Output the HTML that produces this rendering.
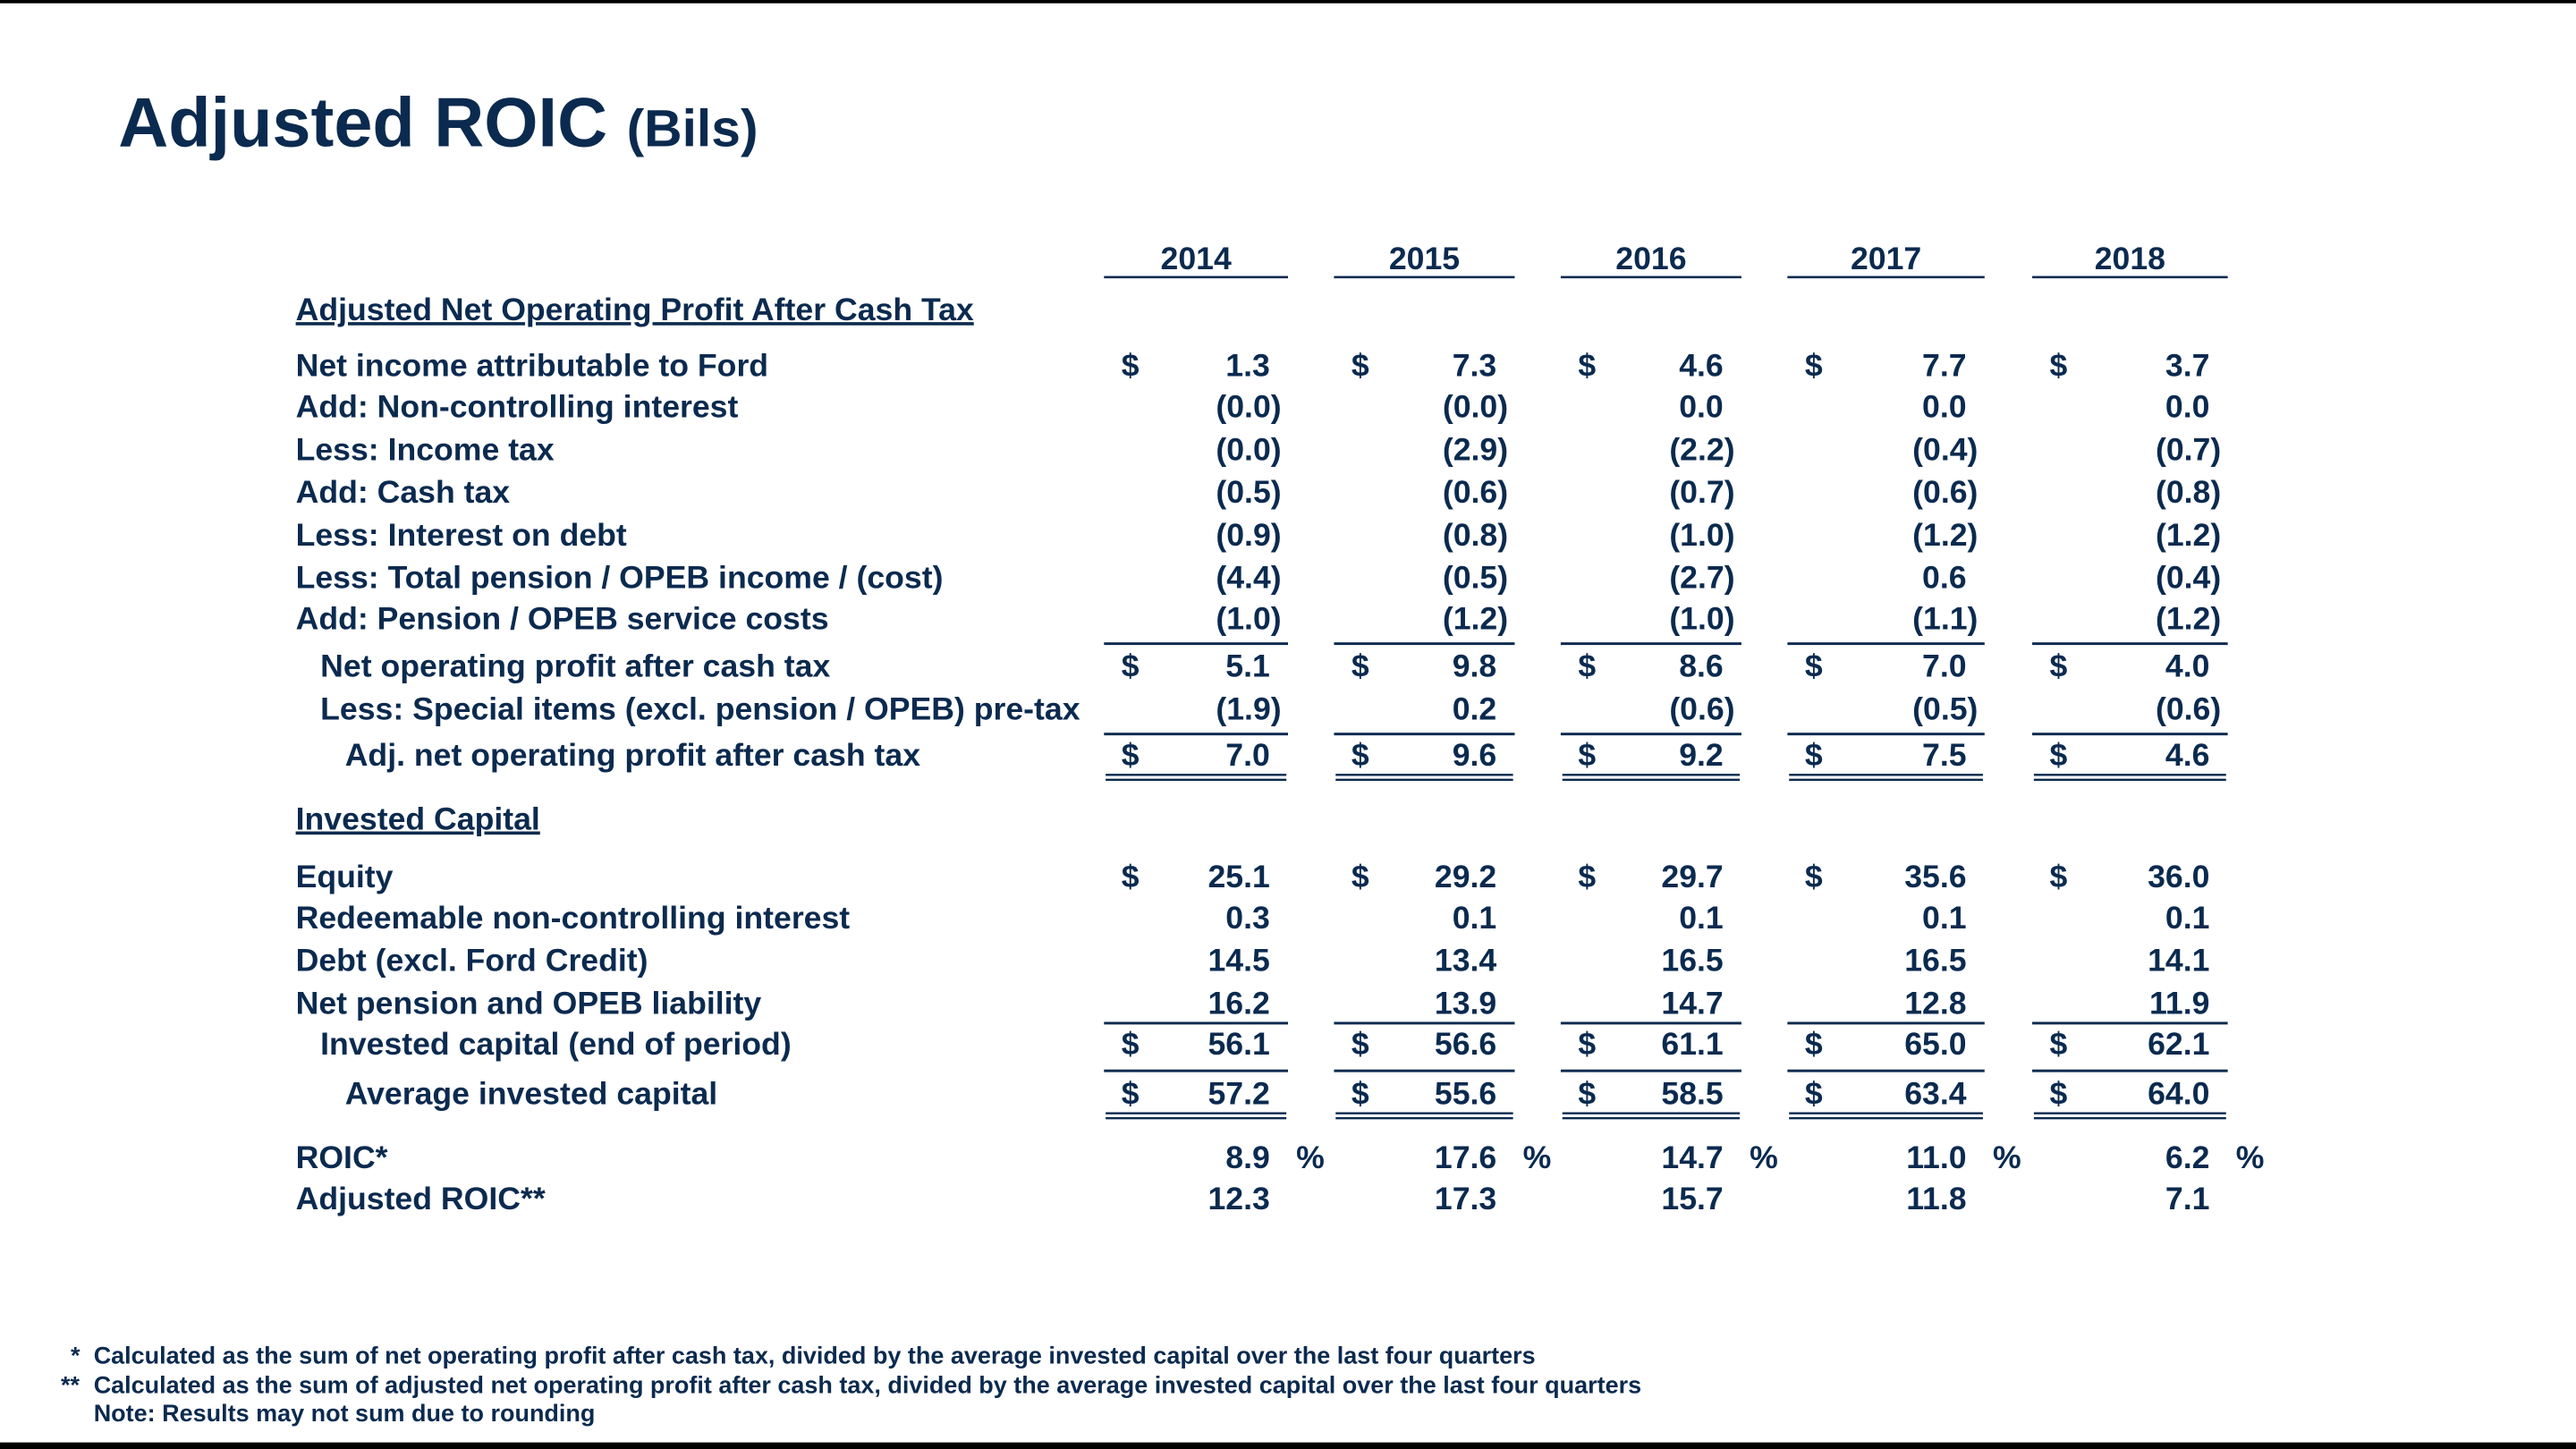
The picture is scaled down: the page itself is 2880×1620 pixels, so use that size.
<!DOCTYPE html>
<html><head><meta charset="utf-8"><style>
html,body{margin:0;padding:0;background:#fff;width:2880px;height:1620px;overflow:hidden}
svg{display:block}
text{font-family:"Liberation Sans",Arial,sans-serif;font-weight:bold;fill:#0b2a4f}
</style></head><body>
<svg id="chart" width="2880" height="1620" viewBox="0 0 1568 882" xmlns="http://www.w3.org/2000/svg">
<rect x="0" y="0" width="1568" height="2" fill="#000"/>
<rect x="0" y="878" width="1568" height="4" fill="#000"/>
<text x="72" y="89" font-size="42.2">Adjusted ROIC <tspan font-size="32">(Bils)</tspan></text>
<text x="180" y="195" font-size="19.4" text-decoration="underline">Adjusted Net Operating Profit After Cash Tax</text>
<text x="180" y="505" font-size="19.4" text-decoration="underline">Invested Capital</text>
<text x="57" y="830" font-size="14.7">Calculated as the sum of net operating profit after cash tax, divided by the average invested capital over the last four quarters</text>
<text x="43" y="830" font-size="14.7">*</text>
<text x="57" y="848" font-size="14.7">Calculated as the sum of adjusted net operating profit after cash tax, divided by the average invested capital over the last four quarters</text>
<text x="37" y="848" font-size="14.7">**</text>
<text x="57" y="865" font-size="14.7">Note: Results may not sum due to rounding</text>
<g id="body"></g>
</svg>
<script>
const years = ["2014","2015","2016","2017","2018"];
const netIncome = [1.3, 7.3, 4.6, 7.7, 3.7];
const nonControlling = [-0.04, -0.04, 0.0, 0.0, 0.0];
const incomeTax = [-0.04, -2.9, -2.2, -0.4, -0.7];
const cashTax = [-0.5, -0.6, -0.7, -0.6, -0.8];
const interestDebt = [-0.9, -0.8, -1.0, -1.2, -1.2];
const pensionIncome = [-4.4, -0.5, -2.7, 0.6, -0.4];
const pensionService = [-1.0, -1.2, -1.0, -1.1, -1.2];
const nopat = [5.1, 9.8, 8.6, 7.0, 4.0];
const specialItems = [-1.9, 0.2, -0.6, -0.5, -0.6];
const adjNopat = [7.0, 9.6, 9.2, 7.5, 4.6];
const equity = [25.1, 29.2, 29.7, 35.6, 36.0];
const redeemable = [0.3, 0.1, 0.1, 0.1, 0.1];
const debt = [14.5, 13.4, 16.5, 16.5, 14.1];
const pensionLiab = [16.2, 13.9, 14.7, 12.8, 11.9];
const investedEnd = [56.1, 56.6, 61.1, 65.0, 62.1];
const avgInvested = [57.2, 55.6, 58.5, 63.4, 64.0];
const roic = [8.9, 17.6, 14.7, 11.0, 6.2];
const adjRoic = [12.3, 17.3, 15.7, 11.8, 7.1];

const NS = "http://www.w3.org/2000/svg";
const g = document.getElementById("body");
const colLeft = i => [672,812,950,1088,1237][i];
const colRight = i => [784,922,1060,1208,1356][i];
const numRight = i => colRight(i) - 11;
const dollarX = i => colLeft(i) + 16;
const FS = 19.4;

function txt(x, y, s, anchor, size) {
  const t = document.createElementNS(NS, "text");
  t.setAttribute("x", x); t.setAttribute("y", y);
  t.setAttribute("font-size", size || FS);
  if (anchor) t.setAttribute("text-anchor", anchor);
  t.textContent = s;
  g.appendChild(t);
  return t;
}
function line(x1, x2, y, w) {
  const r = document.createElementNS(NS, "rect");
  r.setAttribute("x", x1); r.setAttribute("y", y);
  r.setAttribute("width", x2 - x1); r.setAttribute("height", w || 1.6);
  r.setAttribute("fill", "#0b2a4f");
  g.appendChild(r);
  return r;
}
function fmt(v) {
  const s = Math.abs(v).toFixed(1);
  return v < 0 ? "(" + s + ")" : s;
}

years.forEach((y, i) => {
  const t = txt((colLeft(i) + colRight(i)) / 2, 164, y, "middle");
  
  
  const l = line(colLeft(i), colRight(i), 168, 1.4);
  
  
});

const rows = [
  {label:"Net income attributable to Ford", x:180, y:229, v:netIncome, d:true},
  {label:"Add: Non-controlling interest", x:180, y:254, v:nonControlling},
  {label:"Less: Income tax", x:180, y:280, v:incomeTax},
  {label:"Add: Cash tax", x:180, y:306, v:cashTax},
  {label:"Less: Interest on debt", x:180, y:332, v:interestDebt},
  {label:"Less: Total pension / OPEB income / (cost)", x:180, y:358, v:pensionIncome},
  {label:"Add: Pension / OPEB service costs", x:180, y:383, v:pensionService},
  {label:"Net operating profit after cash tax", x:195, y:412, v:nopat, d:true, top:391},
  {label:"Less: Special items (excl. pension / OPEB) pre-tax", x:195, y:438, v:specialItems},
  {label:"Adj. net operating profit after cash tax", x:210, y:466, v:adjNopat, d:true, top:446, dbl:471},
  {label:"Equity", x:180, y:540, v:equity, d:true},
  {label:"Redeemable non-controlling interest", x:180, y:565, v:redeemable},
  {label:"Debt (excl. Ford Credit)", x:180, y:591, v:debt},
  {label:"Net pension and OPEB liability", x:180, y:617, v:pensionLiab},
  {label:"Invested capital (end of period)", x:195, y:642, v:investedEnd, d:true, top:622},
  {label:"Average invested capital", x:210, y:672, v:avgInvested, d:true, top:651, dbl:677},
  {label:"ROIC*", x:180, y:711, v:roic, pct:true},
  {label:"Adjusted ROIC**", x:180, y:736, v:adjRoic}
];

rows.forEach((r, ri) => {
  const key = r.label.toLowerCase().replace(/[^a-z0-9]+/g, '-').replace(/^-|-$/g, '');
  const lab = txt(r.x, r.y, r.label);
  
  
  r.v.forEach((v, i) => {
    const s = fmt(v);
    const xr = v < 0 ? numRight(i) + 7 : numRight(i);
    const c = txt(xr, r.y, s, "end");
    
    
    if (r.d) {
      const d = txt(dollarX(i), r.y, "$", "middle");
      
      
    }
    if (r.pct) {
      const p = txt(numRight(i) + 16, r.y, "%");
      
      
    }
    if (r.top) {
      const l = line(colLeft(i), colRight(i), r.top, 1.6);
      
      
    }
    if (r.dbl) {
      const a = line(colLeft(i) + 1, colRight(i) - 1, r.dbl, 1.3);
      
      
      const b = line(colLeft(i) + 1, colRight(i) - 1, r.dbl + 3, 1.3);
      
      
    }
  });
});
</script>
</body></html>
